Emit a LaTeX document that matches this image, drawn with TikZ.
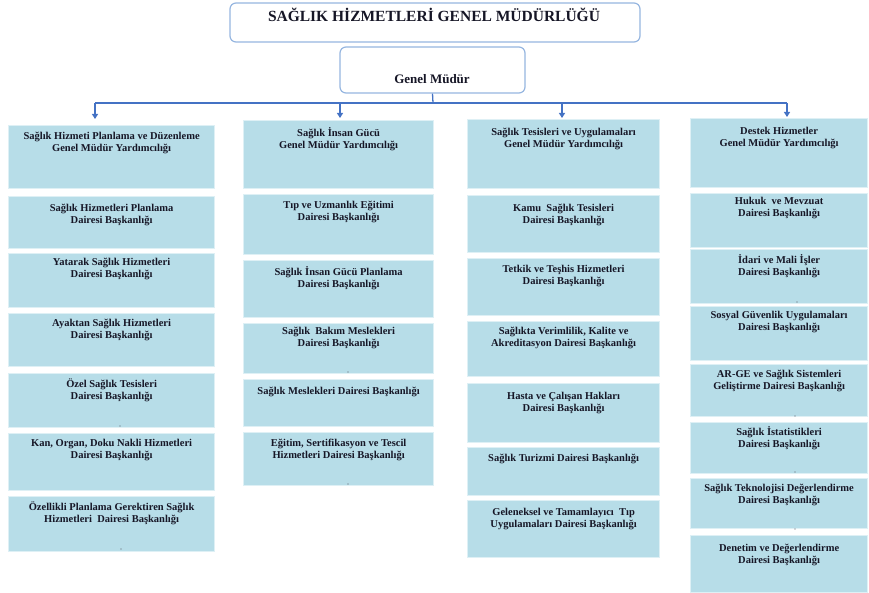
\documentclass[tikz,border=0pt]{standalone}
\usepackage{fontspec}
\setmainfont{Liberation Serif}
\usetikzlibrary{arrows.meta}
\definecolor{boxfill}{RGB}{183,221,232}
\definecolor{boxedge}{RGB}{222,240,245}
\definecolor{topedge}{RGB}{150,182,224}
\definecolor{linecol}{RGB}{68,114,196}
\definecolor{txt}{RGB}{22,22,38}
\tikzset{
  box/.style={fill=boxfill, draw=boxedge, line width=1.2pt, inner sep=0pt, anchor=north west,
    text=txt, font=\fontsize{10.5}{12}\selectfont\bfseries},
  topbox/.style={draw=topedge, fill=white, line width=1.2pt, rounded corners=6pt, inner sep=0pt},
  conn/.style={draw=linecol, line width=1.3pt},
  arr/.style={conn, -{Triangle[length=5pt,width=6pt]}},
  speck/.style={fill=txt!70, circle, inner sep=0pt, minimum size=1.3pt}
}
\newcommand\bx[7]{\node[box] (#1) at (#2,#3) {\parbox[t][#5pt][t]{#4pt}{\centering\rule{0pt}{#6pt}#7}};}
\begin{document}
\begin{tikzpicture}[x=1pt,y=-1pt]
\useasboundingbox (0,0) rectangle (869,593);
% top boxes
\node[topbox, minimum width=410pt, minimum height=39pt] (title) at (435,22.5) {};
\node[text=txt, font=\fontsize{15.5}{18}\selectfont\bfseries] (titletext) at (434,15) {SAĞLIK HİZMETLERİ GENEL MÜDÜRLÜĞÜ};
\node[topbox, minimum width=185pt, minimum height=46pt] (gm) at (432.5,70) {};
\node[text=txt, font=\fontsize{13}{15}\selectfont\bfseries] (gmtext) at (432,79) {Genel Müdür};
% bus
\coordinate (bus) at (433,103);
\coordinate (b1) at (95,103);
\coordinate (b2) at (340,103);
\coordinate (b3) at (562,103);
\coordinate (b4) at (787,103);
\coordinate (a1) at (95,119);
\coordinate (a2) at (340,118);
\coordinate (a3) at (562,118);
\coordinate (a4) at (787,117);
\draw[conn] (gm.south) -- (bus);
\draw[conn] (b1) -- (b4);
\draw[arr] (b1) -- (a1);
\draw[arr] (b2) -- (a2);
\draw[arr] (b3) -- (a3);
\draw[arr] (b4) -- (a4);
% column 1
\bx{g1}{8}{125}{206}{63}{13.5}{Sağlık Hizmeti Planlama ve Düzenleme\\Genel Müdür Yardımcılığı}
\bx{c1a}{8}{196}{206}{52}{14.5}{Sağlık Hizmetleri Planlama\\Dairesi Başkanlığı}
\bx{c1b}{8}{253}{206}{54}{11.5}{Yatarak Sağlık Hizmetleri\\Dairesi Başkanlığı}
\bx{c1c}{8}{313}{206}{53}{12.5}{Ayaktan Sağlık Hizmetleri\\Dairesi Başkanlığı}
\bx{c1d}{8}{373}{206}{54}{13.5}{Özel Sağlık Tesisleri\\Dairesi Başkanlığı}
\bx{c1e}{8}{433}{206}{57}{12.5}{Kan, Organ, Doku Nakli Hizmetleri\\Dairesi Başkanlığı}
\bx{c1f}{8}{496}{206}{55}{13.5}{Özellikli Planlama Gerektiren Sağlık\\Hizmetleri\ \ Dairesi Başkanlığı}
% column 2
\bx{g2}{243}{120}{190}{68}{15.5}{Sağlık İnsan Gücü\\Genel Müdür Yardımcılığı}
\bx{c2a}{243}{194}{190}{60}{13.5}{Tıp ve Uzmanlık Eğitimi\\Dairesi Başkanlığı}
\bx{c2b}{243}{260}{190}{57}{14.5}{Sağlık İnsan Gücü Planlama\\Dairesi Başkanlığı}
\bx{c2c}{243}{323}{190}{50}{10.5}{Sağlık\ \ Bakım Meslekleri\\Dairesi Başkanlığı}
\bx{c2d}{243}{379}{190}{47}{14.5}{Sağlık Meslekleri Dairesi Başkanlığı}
\bx{c2e}{243}{432}{190}{53}{13.5}{Eğitim, Sertifikasyon ve Tescil\\Hizmetleri Dairesi Başkanlığı}
% column 3
\bx{g3}{467}{119}{192}{69}{15.5}{Sağlık Tesisleri ve Uygulamaları\\Genel Müdür Yardımcılığı}
\bx{c3a}{467}{195}{192}{57}{15.5}{Kamu\ \ Sağlık Tesisleri\\Dairesi Başkanlığı}
\bx{c3b}{467}{258}{192}{57}{13.5}{Tetkik ve Teşhis Hizmetleri\\Dairesi Başkanlığı}
\bx{c3c}{467}{321}{192}{55}{12.5}{Sağlıkta Verimlilik, Kalite ve\\Akreditasyon Dairesi Başkanlığı}
\bx{c3d}{467}{383}{192}{59}{15.5}{Hasta ve Çalışan Hakları\\Dairesi Başkanlığı}
\bx{c3e}{467}{447}{192}{48}{13.5}{Sağlık Turizmi Dairesi Başkanlığı}
\bx{c3f}{467}{500}{192}{57}{14.5}{Geleneksel ve Tamamlayıcı\ \ Tıp\\Uygulamaları Dairesi Başkanlığı}
% column 4
\bx{g4}{690}{118}{177}{69}{15.5}{Destek Hizmetler\\Genel Müdür Yardımcılığı}
\bx{c4a}{690}{193}{177}{54}{10.5}{Hukuk\ \ ve Mevzuat\\Dairesi Başkanlığı}
\bx{c4b}{690}{249}{177}{54}{13.5}{İdari ve Mali İşler\\Dairesi Başkanlığı}
\bx{c4c}{690}{306}{177}{54}{11.5}{Sosyal Güvenlik Uygulamaları\\Dairesi Başkanlığı}
\bx{c4d}{690}{364}{177}{52}{12.5}{AR-GE ve Sağlık Sistemleri\\Geliştirme Dairesi Başkanlığı}
\bx{c4e}{690}{422}{177}{51}{12.5}{Sağlık İstatistikleri\\Dairesi Başkanlığı}
\bx{c4f}{690}{478}{177}{50}{12.5}{Sağlık Teknolojisi Değerlendirme\\Dairesi Başkanlığı}
\bx{c4g}{690}{535}{177}{57}{15.5}{Denetim ve Değerlendirme\\Dairesi Başkanlığı}
% specks
\node[speck] (s1) at (120,426) {};
\node[speck] (s2) at (121,549) {};
\node[speck] (s3) at (348,372) {};
\node[speck] (s4) at (348,484) {};
\node[speck] (s5) at (797,302) {};
\node[speck] (s6) at (795,416) {};
\node[speck] (s7) at (795,472) {};
\node[speck] (s8) at (795,529) {};
\end{tikzpicture}
\end{document}
